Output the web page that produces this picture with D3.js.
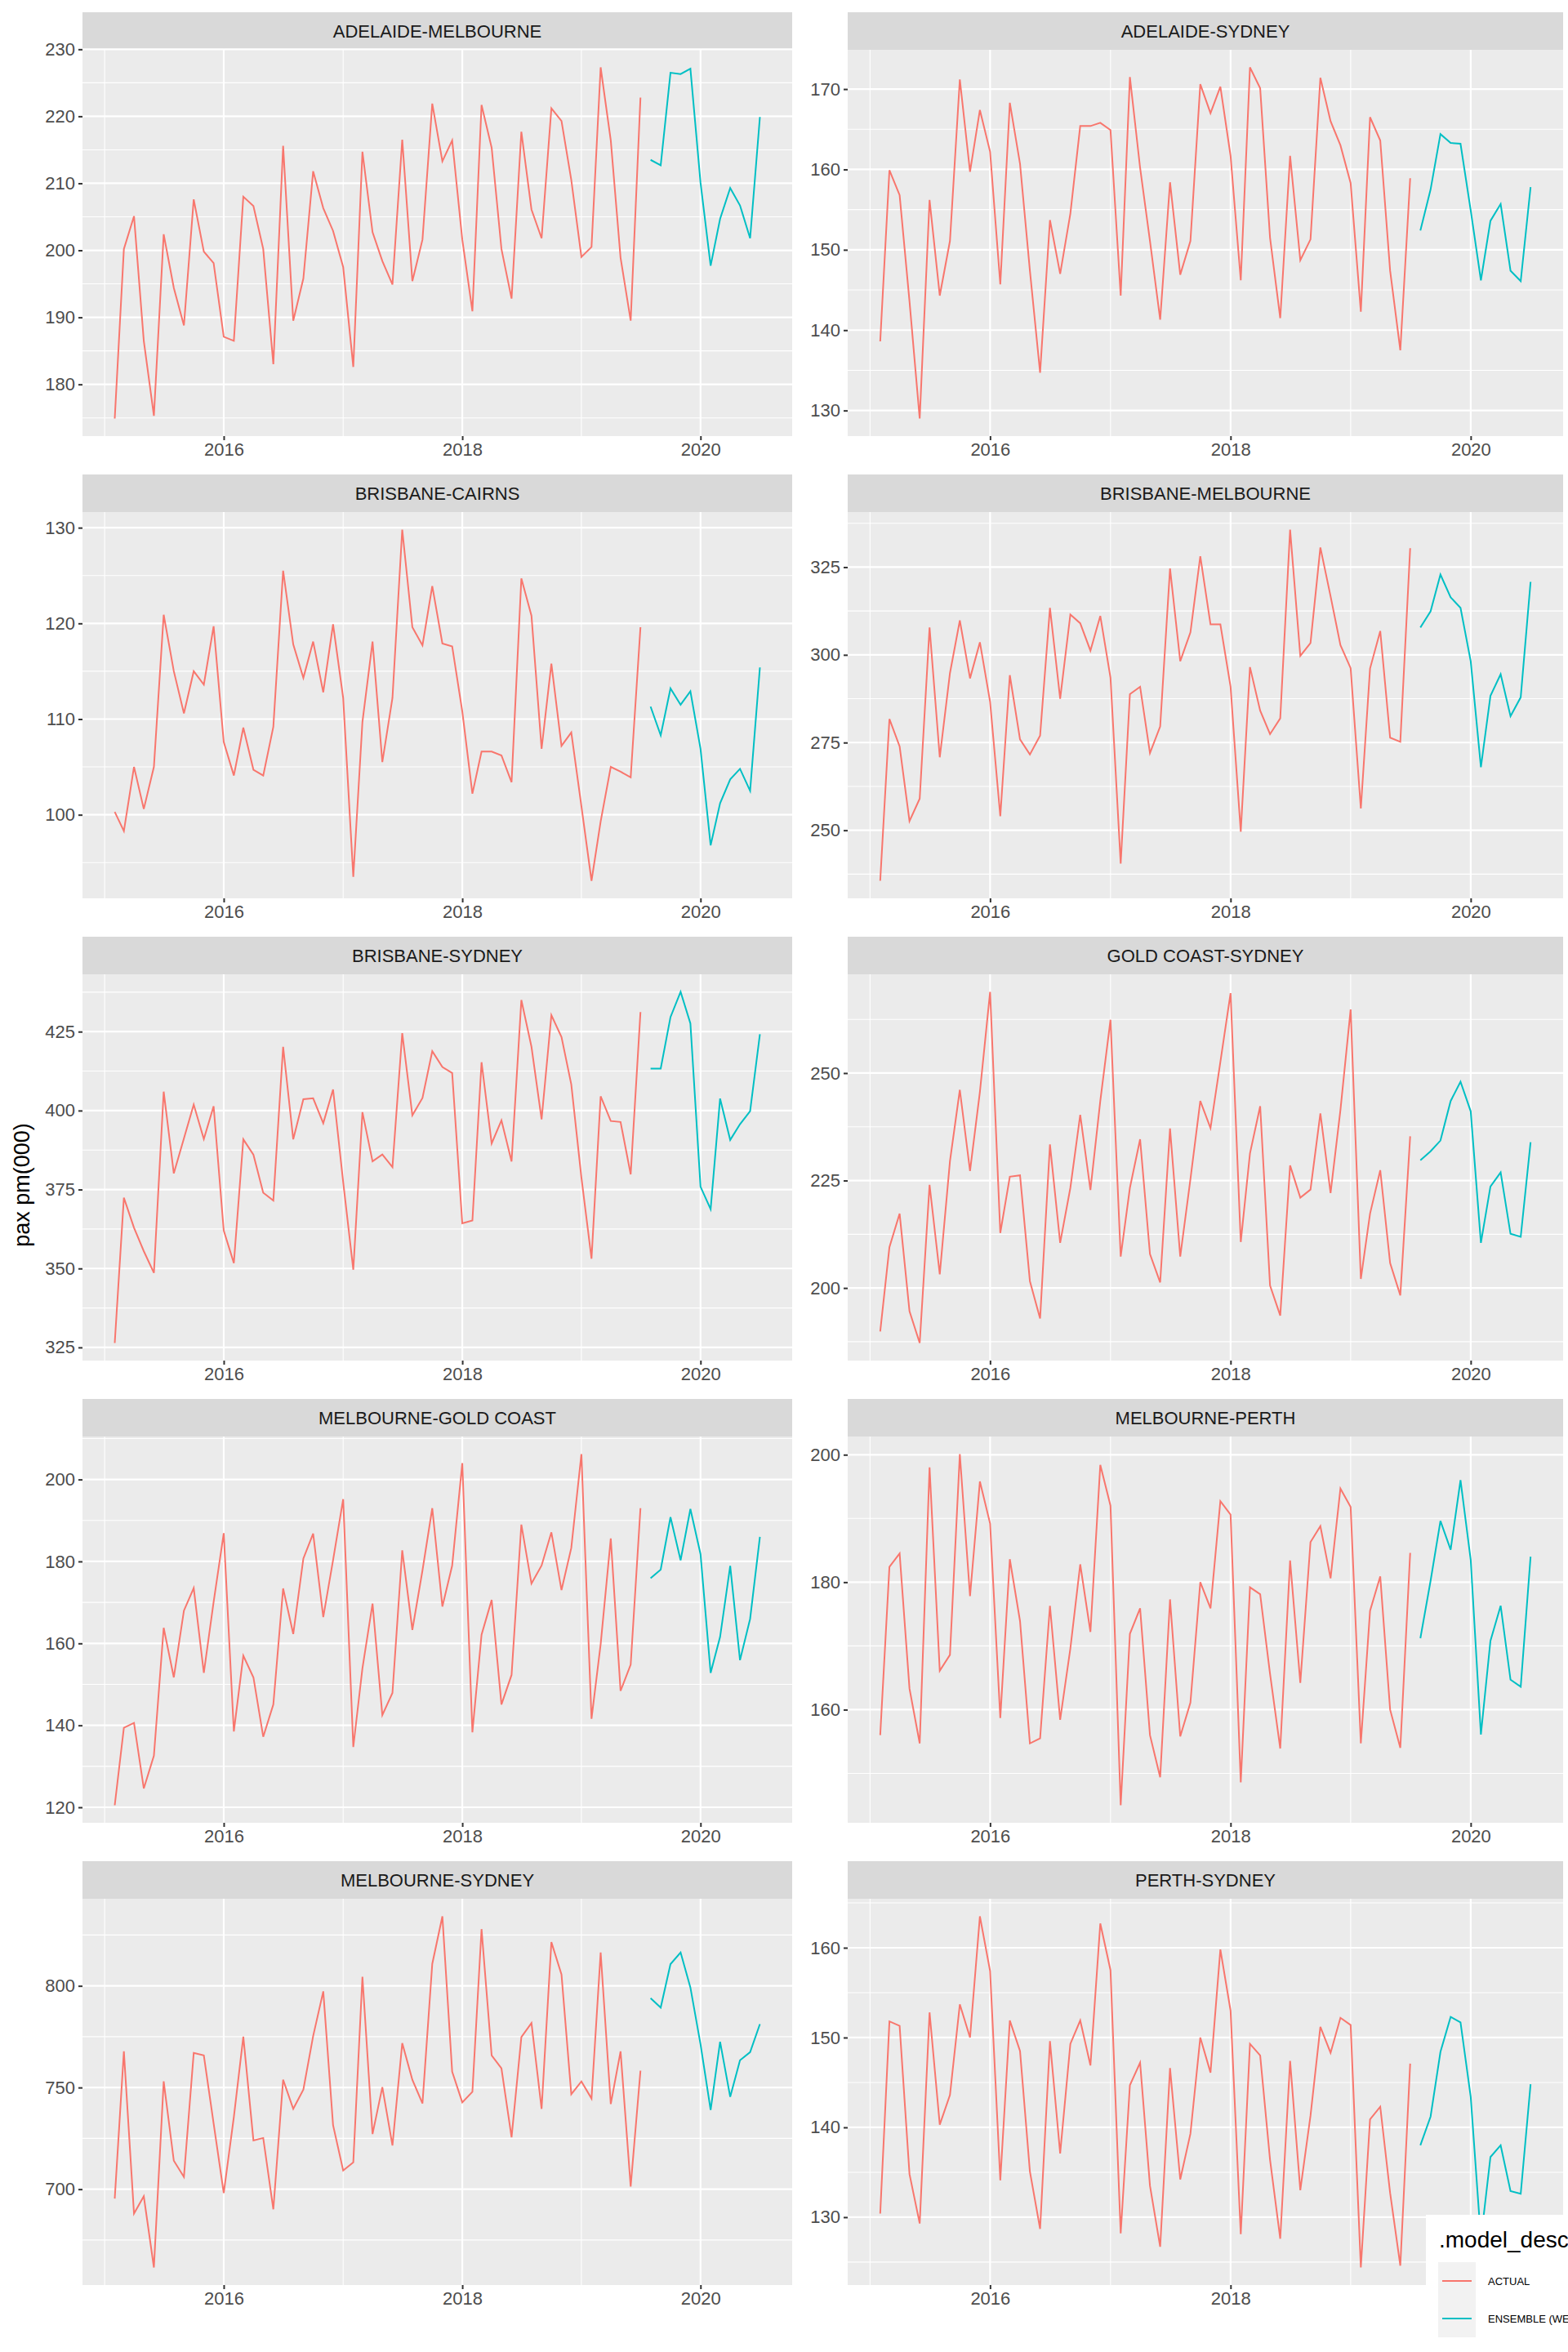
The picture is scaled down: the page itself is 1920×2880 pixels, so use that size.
<!DOCTYPE html>
<html>
<head>
<meta charset="utf-8">
<script src="https://cdn.jsdelivr.net/npm/d3@7"></script>
<style>
body { margin: 0; background: #fff; }
svg { display: block; font-family: "Liberation Sans", Arial, sans-serif; }
</style>
</head>
<body>
<svg id="chart" width="1920" height="2880"></svg>
<script>
// routes, in facet order
var routes = ["ADELAIDE-MELBOURNE", "ADELAIDE-SYDNEY", "BRISBANE-CAIRNS", "BRISBANE-MELBOURNE",
  "BRISBANE-SYDNEY", "GOLD COAST-SYDNEY", "MELBOURNE-GOLD COAST", "MELBOURNE-PERTH",
  "MELBOURNE-SYDNEY", "PERTH-SYDNEY"];

// actual: Feb 2015 - Jul 2019, ensemble: Aug 2019 - Jul 2020
var actualMonths = d3.timeMonth.range(new Date(2015, 1, 1), new Date(2019, 7, 1));
var ensembleMonths = d3.timeMonth.range(new Date(2019, 7, 1), new Date(2020, 7, 1));

var actual = [
 [174.9,200.2,205.1,186.5,175.3,202.4,194.4,188.8,207.6,199.8,198.1,187.1,186.5,208,206.6,200.2,183,215.6,189.5,195.8,211.8,206.3,202.9,197.5,182.6,214.7,202.7,198.4,194.9,216.5,195.4,201.6,221.9,213.3,216.4,201.6,190.9,221.7,215.3,200.2,192.8,217.7,206.1,201.8,221.2,219.3,210.5,199,200.5,227.3,216.4,198.9,189.5,222.8],
 [138.6,159.9,156.8,143.6,129,156.2,144.3,151.1,171.2,159.7,167.4,162.2,145.7,168.3,160.7,147.4,134.7,153.7,147,154.5,165.4,165.4,165.8,164.9,144.3,171.5,160.2,151.1,141.3,158.4,146.9,151.1,170.6,167,170.3,161.7,146.2,172.7,170.1,151.5,141.5,161.7,148.7,151.3,171.4,166,163,158.3,142.3,166.5,163.6,147.4,137.5,158.9],
 [100.3,98.3,105,100.6,105,120.9,115,110.6,115,113.6,119.7,107.6,104.1,109.1,104.7,104.1,109.2,125.5,117.8,114.3,118.1,112.8,119.9,112.2,93.5,109.7,118.1,105.5,112.2,129.8,119.6,117.7,123.9,117.9,117.6,110.8,102.2,106.6,106.6,106.2,103.4,124.7,120.8,106.9,115.8,107.2,108.6,100.9,93.1,99.3,105,104.5,103.9,119.6],
 [235.6,281.7,273.9,252.6,259,307.8,270.8,294.8,309.8,293.3,303.6,286.6,254,294.2,275.9,271.6,277,313.4,287.5,311.5,309,301.2,311.1,293.5,240.5,288.8,290.9,272,279.6,324.6,298.2,306.4,328.1,308.7,308.7,290.9,249.6,296.5,284.1,277.4,281.9,335.7,299.7,303.4,330.6,316.7,302.8,296.2,256.2,296.1,306.8,276.4,275.2,330.4],
 [326.4,372.4,362.9,355.5,348.6,406,380.1,391.2,401.9,391,401.4,362,351.7,390.9,386,374,371.5,420.2,390.9,403.6,403.9,396,406.7,377.4,349.6,399.5,383.9,386.1,382.1,424.5,398.5,404,418.8,413.8,411.9,364.3,365.2,415.3,389.6,396.9,383.9,435,420.2,397.2,430.2,423.3,408.3,378.8,353.1,404.5,396.7,396.4,379.8,431.2],
 [189.9,209.5,217.3,194.6,187.2,224,203.2,229.5,246.1,227.2,245.6,268.9,212.8,225.9,226.2,201.6,192.9,233.4,210.5,223.3,240.3,222.8,243.5,262.4,207.3,223.3,234.6,207.9,201.3,237.1,207.3,225.3,243.5,237.2,252.6,268.6,210.7,231.3,242.3,200.6,193.6,228.5,221,222.9,240.6,222.1,241.4,264.8,202.1,217.3,227.4,205.8,198.3,235.3],
 [120.5,139.4,140.6,124.6,132.6,163.8,151.7,168,173.5,152.8,170.1,186.9,138.5,157,151.7,137.2,145.1,173.4,162.3,180.7,186.8,166.4,180.3,195.2,134.7,153.9,169.7,142.5,147.9,182.7,163.3,177.8,193,169,179,204,138.3,162.1,170.6,145.1,152.3,189,174.6,179,187.1,173,183.3,206.2,141.6,159.8,185.6,148.4,154.8,193],
 [156,182.4,184.5,163.3,154.7,198,166.1,168.6,200.1,177.8,195.8,189.2,158.7,183.6,173.9,154.7,155.5,176.3,158.4,169.6,182.8,172.2,198.4,192,145,171.9,175.9,156,149.4,177.3,155.8,161.1,180,175.9,192.7,190.6,148.6,179.2,178.1,165.6,153.9,183.4,164.2,186.3,188.8,180.6,194.7,191.8,154.7,175.5,180.9,160,154,184.6],
 [695.4,767.8,688,696.5,661.5,753,714,706,767,765.8,732.3,698.1,735.5,775,724,725.2,690.1,753.8,739.5,749,775.3,797.3,731.5,709.2,713.2,804.5,727.1,750.2,721.5,771.8,753.8,742.2,810.8,834.2,757.8,742.7,747.9,827.9,765.8,759.4,725.5,774.8,781.7,739.5,821.5,805.6,746.7,753,744.6,816.4,741.9,767.8,701.3,758.3],
 [130.4,151.8,151.3,134.8,129.3,152.8,140.3,143.6,153.7,150,163.5,157.4,134.1,151.9,148.5,135.1,128.7,149.6,137.1,149.3,151.9,146.9,162.7,157.5,128.2,144.7,147.2,133.5,126.7,146.6,134.2,139.3,150,146.1,159.8,153,128.1,149.3,148,136.4,127.6,147.4,133,141.3,151.2,148.3,152.2,151.4,124.4,140.9,142.3,132.7,124.6,147.1]
];

var ensemble = [
 [213.5,212.7,226.5,226.3,227.1,210.1,197.7,204.7,209.3,206.7,201.8,219.9],
 [152.4,157.5,164.4,163.3,163.2,154.9,146.2,153.6,155.7,147.4,146.1,157.8],
 [111.3,108.3,113.2,111.5,112.9,106.9,96.8,101.2,103.7,104.8,102.5,115.4],
 [307.8,312.4,322.9,316.4,313.4,298.2,268,288.3,294.5,282.5,287.9,320.8],
 [413.3,413.3,429.6,437.6,427.6,375.9,368.8,403.8,390.7,395.7,399.8,424.2],
 [229.7,231.8,234.3,243.5,248,241.1,210.5,223.6,226.9,212.6,211.9,233.9],
 [175.9,178,190.8,180.3,192.8,181.8,152.8,161.6,178.9,155.9,166,186],
 [171.2,180.2,189.6,185.1,196,183.5,156.1,170.8,176.3,164.7,163.6,184],
 [793.9,789.3,810.7,816.4,799.2,771.3,739,772.5,745.4,763.4,767.4,781.2],
 [138,141.2,148.4,152.3,151.7,143.4,127.5,136.7,138,132.9,132.6,144.8]
];

var yTicks = [
 [180,190,200,210,220,230], [130,140,150,160,170], [100,110,120,130], [250,275,300,325],
 [325,350,375,400,425], [200,225,250], [120,140,160,180,200], [160,180,200],
 [700,750,800], [130,140,150,160]
];
var xTicks = [2016, 2018, 2020];
var xMinor = [2015, 2017, 2019];

var seriesNames = ["ACTUAL", "ENSEMBLE (WEIGHTED)"];
var colors = ["#F8766D", "#00BFC4"];

var svg = d3.select("#chart");

var colX = [101, 1038], plotW = [869, 876];
var rowY0 = 15, rowStep = 566, stripH = 46, plotH = 473;

var xDom = [new Date(2015, 1, 1), new Date(2020, 6, 1)];
var span = xDom[1] - xDom[0];
var xDomPad = [new Date(+xDom[0] - span * 0.05), new Date(+xDom[1] + span * 0.05)];

routes.forEach(function(route, k) {
  var col = k % 2, row = Math.floor(k / 2);
  var left = colX[col], top = rowY0 + row * rowStep, w = plotW[col];
  var g = svg.append("g").attr("transform", "translate(" + left + "," + top + ")");

  var all = actual[k].concat(ensemble[k]);
  var ext = d3.extent(all), pad = (ext[1] - ext[0]) * 0.05;
  var y = d3.scaleLinear().domain([ext[0] - pad, ext[1] + pad]).range([stripH + plotH, stripH]);
  var x = d3.scaleTime().domain(xDomPad).range([0, w]);

  // strip
  g.append("rect").attr("width", w).attr("height", stripH).attr("fill", "#D9D9D9");
  g.append("text").attr("x", w / 2).attr("y", stripH / 2 + 8).attr("text-anchor", "middle")
    .attr("font-size", 22).attr("fill", "#1A1A1A").text(route);

  // panel
  g.append("rect").attr("y", stripH).attr("width", w).attr("height", plotH).attr("fill", "#EBEBEB");

  // minor y grid at midpoints
  var t = yTicks[k], step = t[1] - t[0];
  var minors = [];
  for (var v = t[0] - step / 2; v <= t[t.length - 1] + step; v += step) {
    if (v >= y.domain()[0] && v <= y.domain()[1]) minors.push(v);
  }
  g.selectAll(".ymin").data(minors).enter().append("line")
    .attr("x1", 0).attr("x2", w).attr("y1", y).attr("y2", y)
    .attr("stroke", "#fff").attr("stroke-width", 1.1);
  g.selectAll(".xmin").data(xMinor).enter().append("line")
    .attr("x1", function(d) { return x(new Date(d, 0, 1)); })
    .attr("x2", function(d) { return x(new Date(d, 0, 1)); })
    .attr("y1", stripH).attr("y2", stripH + plotH)
    .attr("stroke", "#fff").attr("stroke-width", 1.1);
  // major grid
  g.selectAll(".ymaj").data(t).enter().append("line")
    .attr("x1", 0).attr("x2", w).attr("y1", y).attr("y2", y)
    .attr("stroke", "#fff").attr("stroke-width", 2.2);
  g.selectAll(".xmaj").data(xTicks).enter().append("line")
    .attr("x1", function(d) { return x(new Date(d, 0, 1)); })
    .attr("x2", function(d) { return x(new Date(d, 0, 1)); })
    .attr("y1", stripH).attr("y2", stripH + plotH)
    .attr("stroke", "#fff").attr("stroke-width", 2.2);

  // axes
  var yAxis = g.append("g").call(d3.axisLeft(y).tickValues(t).tickSize(5).tickPadding(4));
  var xAxis = g.append("g").attr("transform", "translate(0," + (stripH + plotH) + ")")
    .call(d3.axisBottom(x).tickValues(xTicks.map(function(d) { return new Date(d, 0, 1); }))
      .tickFormat(d3.timeFormat("%Y")).tickSize(5).tickPadding(3));
  [yAxis, xAxis].forEach(function(a) {
    a.select(".domain").remove();
    a.selectAll("line").attr("stroke", "#333").attr("stroke-width", 2);
    a.selectAll("text").attr("font-size", 22).attr("fill", "#4D4D4D")
      .attr("font-family", "Liberation Sans, Arial, sans-serif");
  });

  var line = d3.line().x(function(d) { return x(d[0]); }).y(function(d) { return y(d[1]); });
  g.append("path").datum(d3.zip(actualMonths, actual[k]))
    .attr("d", line).attr("fill", "none").attr("stroke", colors[0]).attr("stroke-width", 2);
  g.append("path").datum(d3.zip(ensembleMonths, ensemble[k]))
    .attr("d", line).attr("fill", "none").attr("stroke", colors[1]).attr("stroke-width", 2);
});

// y title
svg.append("text").attr("transform", "translate(36,1451) rotate(-90)")
  .attr("text-anchor", "middle").attr("font-size", 27).attr("fill", "#000").text("pax pm(000)");

// legend
var lg = svg.append("g").attr("transform", "translate(1746,2712)");
lg.append("rect").attr("width", 200).attr("height", 168).attr("fill", "#fff");
lg.append("text").attr("x", 16).attr("y", 40).attr("font-size", 28).attr("fill", "#000").text(".model_desc");
seriesNames.forEach(function(name, i) {
  var ky = 58 + i * 46;
  lg.append("rect").attr("x", 15).attr("y", ky).attr("width", 46).attr("height", 46).attr("fill", "#F2F2F2");
  lg.append("line").attr("x1", 20).attr("x2", 56).attr("y1", ky + 23).attr("y2", ky + 23)
    .attr("stroke", colors[i]).attr("stroke-width", 2);
  lg.append("text").attr("x", 76).attr("y", ky + 28).attr("font-size", 13).attr("fill", "#000").text(name);
});
</script>
</body>
</html>
